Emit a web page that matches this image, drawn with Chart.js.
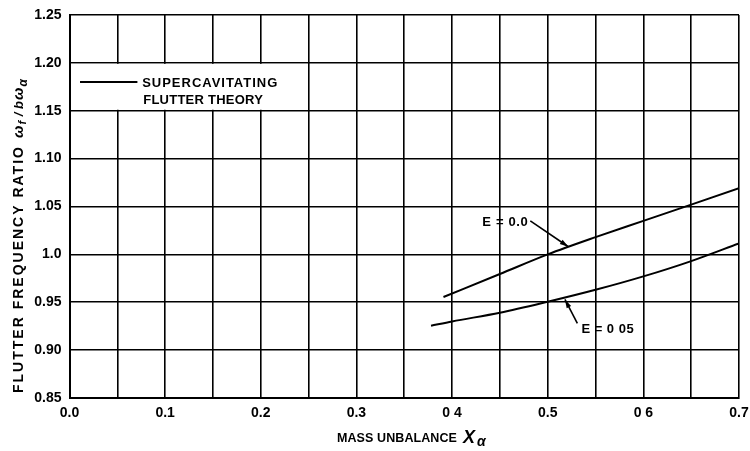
<!DOCTYPE html>
<html>
<head>
<meta charset="utf-8">
<script src="https://cdn.jsdelivr.net/npm/chart.js@4.4.1/dist/chart.umd.min.js"></script>
<style>
  html, body { margin: 0; padding: 0; background: #fff; }
  #wrap { width: 750px; height: 451px; }
</style>
</head>
<body>
<div id="wrap"><canvas id="flutterChart" width="750" height="451"></canvas></div>
<script>
// curve E = 0.0
const xE00 = [0.391, 0.45, 0.50, 0.55, 0.60, 0.65, 0.70];
const yE00 = [0.9555, 0.9795, 1.000, 1.018, 1.035, 1.052, 1.069];
// curve E = 0.05
const xE05 = [0.378, 0.40, 0.45, 0.50, 0.55, 0.60, 0.65, 0.70];
const yE05 = [0.9255, 0.930, 0.939, 0.9505, 0.963, 0.977, 0.993, 1.0115];

const xTickValues = [0, 0.1, 0.2, 0.3, 0.4, 0.5, 0.6, 0.7];
const xTickLabels = ['0.0', '0.1', '0.2', '0.3', '0 4', '0.5', '0 6', '0.7'];
const yTickValues = [0.85, 0.90, 0.95, 1.0, 1.05, 1.10, 1.15, 1.20, 1.25];
const yTickLabels = ['0.85', '0.90', '0.95', '1.0', '1.05', '1.10', '1.15', '1.20', '1.25'];

// labels: [text, textX, textY, arrowFromX, arrowFromY, tipX, tipY]
const curveNotes = [
    ['E = 0.0', 0.4316, 1.0338, 0.4818, 1.0349, 0.5216, 1.0080],
    ['E = 0 05', 0.5352, 0.9220, 0.5310, 0.9280, 0.5180, 0.9530]
];
const legendText = ['SUPERCAVITATING', 'FLUTTER THEORY'];

const FONT = '"Liberation Sans", Arial, Helvetica, sans-serif';

function pickLabel(values, labels, v) {
    for (let i = 0; i < values.length; i++) {
        if (Math.abs(values[i] - v) < 1e-6) return labels[i];
    }
    return '';
}

function toPoints(xs, ys) {
    return xs.map((x, i) => ({ x: x, y: ys[i] }));
}

// draw text stretched to a given width with letter spacing
function spacedText(ctx, text, x, y, width) {
    ctx.letterSpacing = '0px';
    const w = ctx.measureText(text).width;
    ctx.letterSpacing = ((width - w) / text.length).toFixed(2) + 'px';
    ctx.fillText(text, x, y);
    ctx.letterSpacing = '0px';
}

const decorPlugin = {
    id: 'decor',
    afterDatasetsDraw(chart) {
        const ctx = chart.ctx;
        const xs = chart.scales.x;
        const ys = chart.scales.y;
        ctx.save();

        // legend box (covers the grid between 0 and 0.25, 1.15 and 1.20)
        const bx0 = xs.getPixelForValue(0) + 1.5;
        const bx1 = xs.getPixelForValue(0.25) - 1;
        const by0 = ys.getPixelForValue(1.20) + 1;
        const by1 = ys.getPixelForValue(1.15) - 1;
        ctx.fillStyle = '#fff';
        ctx.fillRect(bx0, by0, bx1 - bx0, by1 - by0);

        ctx.strokeStyle = '#000';
        ctx.lineWidth = 2;
        const ly = ys.getPixelForValue(1.18);
        ctx.beginPath();
        ctx.moveTo(xs.getPixelForValue(0.011), ly);
        ctx.lineTo(xs.getPixelForValue(0.071), ly);
        ctx.stroke();

        ctx.fillStyle = '#000';
        ctx.font = 'bold 13px ' + FONT;
        ctx.textBaseline = 'middle';
        ctx.textAlign = 'left';
        const tx = xs.getPixelForValue(0.076);
        spacedText(ctx, legendText[0], tx, ly + 1, 136);
        spacedText(ctx, legendText[1], tx + 1, ly + 18, 120);

        // curve labels and arrows
        curveNotes.forEach(n => {
            ctx.font = 'bold 13px ' + FONT;
            ctx.textBaseline = 'middle';
            spacedText(ctx, n[0], xs.getPixelForValue(n[1]), ys.getPixelForValue(n[2]), n[0].length * 6.6);
            const ax = xs.getPixelForValue(n[3]);
            const ay = ys.getPixelForValue(n[4]);
            const px = xs.getPixelForValue(n[5]);
            const py = ys.getPixelForValue(n[6]);
            ctx.lineWidth = 1.6;
            ctx.beginPath();
            ctx.moveTo(ax, ay);
            ctx.lineTo(px, py);
            ctx.stroke();
            const ang = Math.atan2(py - ay, px - ax);
            const len = 9, half = 0.28;
            ctx.beginPath();
            ctx.moveTo(px, py);
            ctx.lineTo(px - len * Math.cos(ang - half), py - len * Math.sin(ang - half));
            ctx.lineTo(px - len * Math.cos(ang + half), py - len * Math.sin(ang + half));
            ctx.closePath();
            ctx.fill();
        });

        // x axis title
        ctx.textBaseline = 'alphabetic';
        ctx.textAlign = 'left';
        const base = 442;
        ctx.font = 'bold 12.5px ' + FONT;
        spacedText(ctx, 'MASS UNBALANCE', 337, base, 120);
        ctx.font = 'bold italic 18px ' + FONT;
        ctx.fillText('X', 463, base + 1);
        ctx.font = 'bold italic 14px ' + FONT;
        ctx.fillText('\u03b1', 477, base + 4);

        // y axis title (rotated)
        ctx.translate(23, 393);
        ctx.rotate(-Math.PI / 2);
        ctx.font = 'bold 14px ' + FONT;
        spacedText(ctx, 'FLUTTER FREQUENCY RATIO', 0, 0, 248);
        const parts = [
            ['\u03c9', 'bold italic 15px ' + FONT, 0],
            ['f', 'bold italic 11px ' + FONT, 3],
            [' / b', 'bold italic 13px ' + FONT, 0],
            ['\u03c9', 'bold italic 15px ' + FONT, 0],
            ['\u03b1', 'bold italic 12px ' + FONT, 4]
        ];
        let cx = 255;
        parts.forEach(p => {
            ctx.font = p[1];
            ctx.fillText(p[0], cx, p[2]);
            cx += ctx.measureText(p[0]).width + 1;
        });

        ctx.restore();
    }
};

const ctx = document.getElementById('flutterChart').getContext('2d');
new Chart(ctx, {
    type: 'line',
    data: {
        datasets: [
            {
                label: 'E = 0.0',
                data: toPoints(xE00, yE00),
                borderColor: '#000',
                borderWidth: 2,
                pointRadius: 0,
                cubicInterpolationMode: 'monotone',
                fill: false
            },
            {
                label: 'E = 0.05',
                data: toPoints(xE05, yE05),
                borderColor: '#000',
                borderWidth: 2,
                pointRadius: 0,
                cubicInterpolationMode: 'monotone',
                fill: false
            }
        ]
    },
    options: {
        responsive: false,
        animation: false,
        layout: { padding: { top: 15, right: 11, left: 0, bottom: 0 } },
        plugins: {
            legend: { display: false },
            tooltip: { enabled: false }
        },
        scales: {
            x: {
                type: 'linear',
                min: 0,
                max: 0.7,
                afterFit: (scale) => {
                    scale.height = 53;
                    scale.paddingLeft = 0;
                    scale.paddingRight = 0;
                },
                grid: { color: '#000', lineWidth: 1.6, drawTicks: false },
                border: { color: '#000', width: 2 },
                ticks: {
                    stepSize: 0.05,
                    autoSkip: false,
                    maxRotation: 0,
                    padding: 7,
                    color: '#000',
                    font: { family: FONT, size: 14, weight: 'bold' },
                    callback: (v) => pickLabel(xTickValues, xTickLabels, v)
                }
            },
            y: {
                type: 'linear',
                min: 0.85,
                max: 1.25,
                afterFit: (scale) => {
                    scale.width = 69.5;
                    scale.paddingTop = 0;
                    scale.paddingBottom = 0;
                },
                grid: { color: '#000', lineWidth: 1.6, drawTicks: false },
                border: { color: '#000', width: 2 },
                ticks: {
                    stepSize: 0.05,
                    autoSkip: false,
                    padding: 8,
                    color: '#000',
                    font: { family: FONT, size: 14, weight: 'bold' },
                    callback: (v) => pickLabel(yTickValues, yTickLabels, v)
                }
            }
        }
    },
    plugins: [decorPlugin]
});
</script>
</body>
</html>
